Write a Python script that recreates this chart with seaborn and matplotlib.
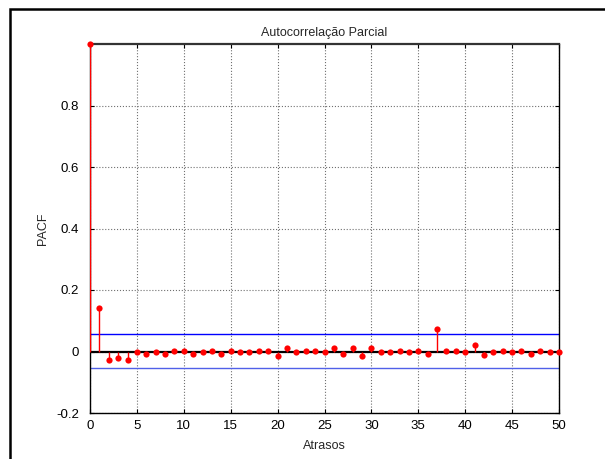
import matplotlib
matplotlib.use("Agg")
import matplotlib.pyplot as plt
import seaborn as sns
import pandas as pd
import numpy as np

lags = list(range(0, 51))
pacf = [1.0, 0.142, -0.028, -0.022, -0.028, 0.0, -0.008, 0.0, -0.008, 0.003,
        0.003, -0.008, 0.0, 0.003, -0.008, 0.003, 0.0, 0.0, 0.003, 0.003,
        -0.015, 0.011, -0.003, 0.003, 0.003, -0.003, 0.011, -0.008, 0.011, -0.015,
        0.011, -0.003, -0.003, 0.003, -0.003, 0.003, -0.008, 0.072, 0.003, 0.003,
        0.0, 0.021, -0.011, 0.0, 0.003, 0.0, 0.003, -0.008, 0.003, -0.003, 0.0]
upper_bound = 0.056
lower_bound = -0.054
x_ticks = [0, 5, 10, 15, 20, 25, 30, 35, 40, 45, 50]
y_ticks = [-0.2, 0.0, 0.2, 0.4, 0.6, 0.8]
y_tick_labels = ["-0.2", "0", "0.2", "0.4", "0.6", "0.8"]

sns.set_theme(style="white")
plt.rcParams['font.family'] = ['Liberation Sans', 'DejaVu Sans']
plt.rcParams['font.size'] = 9

df = pd.DataFrame({"lag": lags, "pacf": pacf})

fig = plt.figure(figsize=(6.05, 4.59), dpi=100)
ax = fig.add_axes([90/605, 1-413/459, (559-90)/605, (413-44)/459])

# outer frame
fig.patches.append(matplotlib.patches.Rectangle((10/605, -0.1), 1.2, 1 - 9/459 + 0.1,
                   transform=fig.transFigure, fill=False, edgecolor="black", lw=1.8))

ax.vlines(df["lag"], 0, df["pacf"], colors="red", lw=1.0, zorder=3)
sns.scatterplot(data=df, x="lag", y="pacf", ax=ax, color="red", s=20,
                edgecolor="red", linewidth=0, zorder=4, clip_on=False)
ax.axhline(0, color="black", lw=1.6, zorder=2)
ax.axhline(upper_bound, color="blue", lw=1.0, zorder=2)
ax.axhline(lower_bound, color="#5060e8", lw=1.0, zorder=2)

ax.set_xlim(0, 50)
ax.set_ylim(-0.2, 1.0)
ax.set_xticks(x_ticks)
ax.set_yticks(y_ticks)
ax.set_yticklabels(y_tick_labels)
ax.grid(True, color="#707070", linestyle=":", lw=0.8)
ax.tick_params(direction="in", length=3, top=True, right=True, bottom=True, left=True,
               labelsize=9.5, colors="black", width=0.8)
ax.tick_params(axis="y", pad=8)
ax.tick_params(axis="x", pad=5)
for s in ax.spines.values():
    s.set_color("black")
    s.set_linewidth(1.0)
ax.spines["top"].set_color("#333333")
ax.spines["top"].set_linewidth(1.6)

ax.set_title("Autocorrelação Parcial", fontsize=9, pad=6)
ax.set_xlabel("Atrasos", fontsize=9, labelpad=6)
ax.set_ylabel("PACF", fontsize=9, labelpad=5)

fig.savefig("out.png", dpi=100)
